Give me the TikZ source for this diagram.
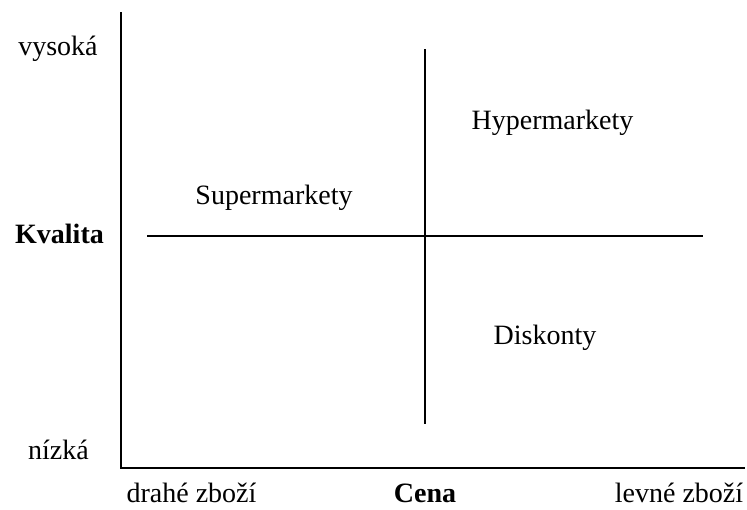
\documentclass[tikz,border=0pt]{standalone}
\usepackage{fontspec}
\setmainfont{Liberation Serif}
\begin{document}
\begin{tikzpicture}[x=1pt,y=-1pt,
  lbl/.style={anchor=base,inner sep=0pt,font=\fontsize{28}{32}\selectfont},
  blbl/.style={lbl,font=\fontsize{28}{32}\selectfont\bfseries},
  axis/.style={line width=1.4pt,black},
  divider/.style={line width=1.4pt,black}]
\useasboundingbox (0,0) rectangle (747,509);
% axes
\coordinate (ytop) at (121,12);
\coordinate (orig) at (121,468);
\coordinate (xend) at (745,468);
\draw[axis] (ytop) -- (orig) -- (xend);
% quadrant dividers
\coordinate (vt) at (425,49);
\coordinate (vb) at (425,424);
\coordinate (hl) at (147,236);
\coordinate (hr) at (703,236);
\draw[divider] (vt) -- (vb);
\draw[divider] (hl) -- (hr);
% labels
\node[lbl] (hi) at (58,55) {vysoká};
\node[blbl] (kv) at (59.5,243) {Kvalita};
\node[lbl] (lo) at (58.5,459) {nízká};
\node[lbl] (dr) at (191.5,502) {drahé zboží};
\node[blbl] (ce) at (425,502) {Cena};
\node[lbl] (lv) at (679,502) {levné zboží};
\node[lbl] (hy) at (552.5,129) {Hypermarkety};
\node[lbl] (su) at (274,204) {Supermarkety};
\node[lbl] (di) at (545,344) {Diskonty};
\end{tikzpicture}
\end{document}
